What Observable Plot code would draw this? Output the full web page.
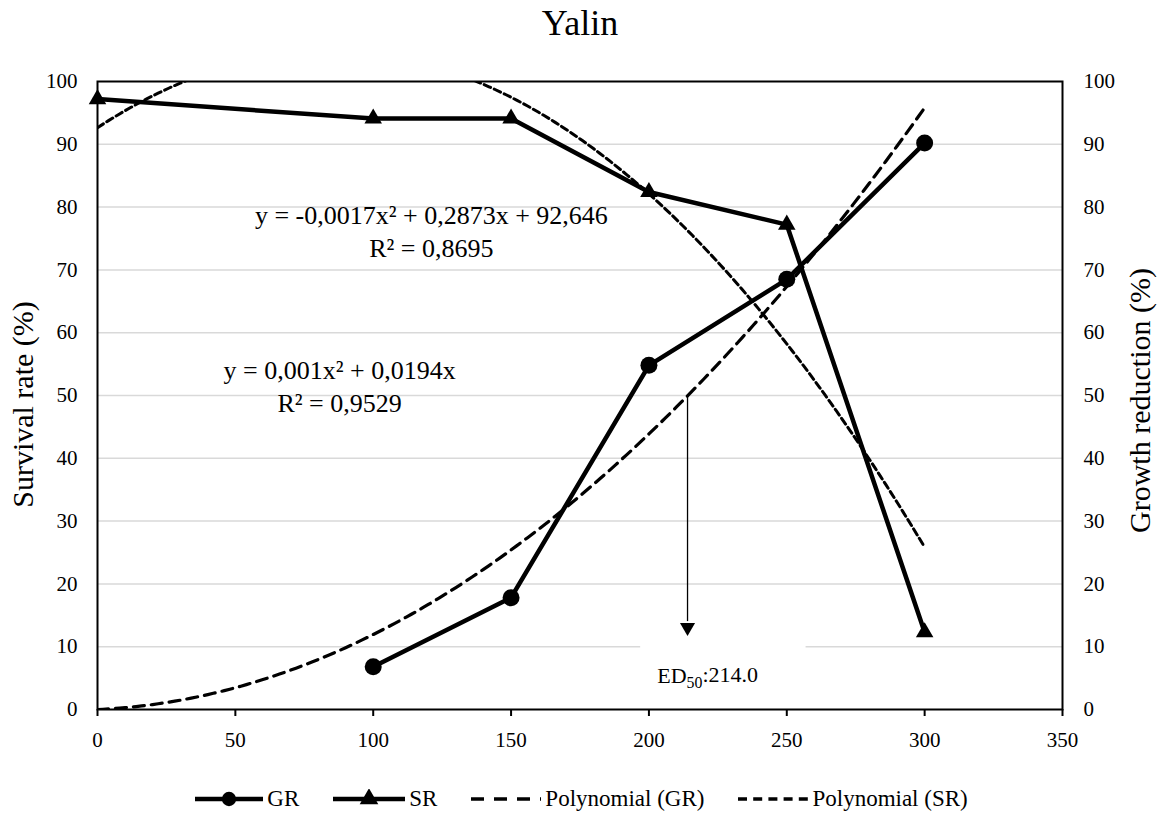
<!DOCTYPE html>
<html>
<head>
<meta charset="utf-8">
<script src="https://cdn.jsdelivr.net/npm/d3@7"></script>
<script src="https://cdn.jsdelivr.net/npm/@observablehq/plot@0.6"></script>
<style>
  body { margin: 0; background: #fff; font-family: "Liberation Serif", "Times New Roman", serif; color: #000; }
  #wrap { width: 1160px; height: 816px; position: relative; overflow: hidden; }
  #title { height: 50px; line-height: 46px; text-align: center; font-size: 36px; }
  #chart svg { display: block; }
  #legend { height: 50px; display: flex; justify-content: center; align-items: center; gap: 34px; padding-top: 16px; padding-left: 3px; box-sizing: border-box; font-size: 23px; }
  .item { display: flex; align-items: center; gap: 4px; }
  .item svg { display: block; }
</style>
</head>
<body>
<div id="wrap">
  <div id="title">Yalin</div>
  <div id="chart"></div>
  <div id="legend"></div>
</div>
<script>
// Dose (x) and the two measured series
const srDoses = [0, 100, 150, 200, 250, 300];
const srValues = [97.2, 94.1, 94.1, 82.4, 77.2, 12.3];
const grDoses = [100, 150, 200, 250, 300];
const grValues = [6.8, 17.8, 54.8, 68.5, 90.2];

// Second-order trendlines: y = a·x² + b·x + c
const grCoef = [0.001, 0.0194, 0];
const srCoef = [-0.0017, 0.2873, 92.646];
const grEquation = ["y = 0,001x² + 0,0194x", "R² = 0,9529"];
const srEquation = ["y = -0,0017x² + 0,2873x + 92,646", "R² = 0,8695"];
const trendRange = [0, 300];

// Dose giving 50 % growth reduction
const ed50 = 214.0;

// Axes
const xTicks = [0, 50, 100, 150, 200, 250, 300, 350];
const yTicks = [0, 10, 20, 30, 40, 50, 60, 70, 80, 90, 100];
const leftTitle = "Survival rate (%)";
const rightTitle = "Growth reduction (%)";

const poly = ([a, b, c]) => x => a * x * x + b * x + c;
const grFit = poly(grCoef), srFit = poly(srCoef);
const trendX = d3.range(trendRange[0], trendRange[1] + 0.001, 2);

const gr = grDoses.map((x, i) => ({x, y: grValues[i]}));
const sr = srDoses.map((x, i) => ({x, y: srValues[i]}));
const grTrend = trendX.map(x => ({x, y: grFit(x)}));
const srTrend = trendX.map(x => ({x, y: srFit(x)}));

const ink = "#000";

const chart = Plot.plot({
  width: 1160,
  height: 716,
  marginTop: 31,
  marginBottom: 57,
  marginLeft: 97,
  marginRight: 98,
  style: {fontFamily: "'Liberation Serif', 'Times New Roman', serif", fontSize: "21px", color: ink, background: "#fff"},
  x: {domain: [0, 350]},
  y: {domain: [0, 100]},
  marks: [
    Plot.gridY(yTicks.filter(v => v > 0 && v < 100), {stroke: "#d9d9d9", strokeOpacity: 1, strokeWidth: 1.5}),
    // white backing behind the ED50 label
    Plot.rect([{x1: 197, x2: 257, y1: 1, y2: 10.5}], {x1: "x1", x2: "x2", y1: "y1", y2: "y2", fill: "#fff"}),
    Plot.axisX(xTicks, {tickSize: 7, tickPadding: 16, strokeWidth: 2, fontSize: 21, label: null}),
    Plot.axisY(yTicks, {anchor: "left", tickSize: 0, tickPadding: 20, fontSize: 21, label: null}),
    Plot.axisY(yTicks, {anchor: "right", tickSize: 0, tickPadding: 21, fontSize: 21, label: null}),
    Plot.text([leftTitle], {frameAnchor: "left", dx: -74, dy: 9, rotate: -90, fontSize: 30, textAnchor: "middle", lineAnchor: "middle", fill: ink}),
    Plot.text([rightTitle], {frameAnchor: "right", dx: 78, dy: 5, rotate: -90, fontSize: 30, textAnchor: "middle", lineAnchor: "middle", fill: ink}),
    // trendlines
    Plot.line(grTrend, {x: "x", y: "y", stroke: ink, strokeWidth: 3.2, strokeDasharray: "11,7", clip: true}),
    Plot.line(srTrend, {x: "x", y: "y", stroke: ink, strokeWidth: 3, strokeDasharray: "7,4", clip: true}),
    // measured series
    Plot.line(gr, {x: "x", y: "y", stroke: ink, strokeWidth: 4.5}),
    Plot.line(sr, {x: "x", y: "y", stroke: ink, strokeWidth: 4.5}),
    Plot.dot(gr, {x: "x", y: "y", symbol: "circle", r: 8.5, fill: ink}),
    Plot.dot(sr, {x: "x", y: "y", symbol: "triangle", r: 6.5, fill: ink}),
    Plot.frame({stroke: ink, strokeWidth: 2}),
    // ED50 arrow from the GR trendline down to the label
    Plot.ruleX([ed50], {y1: grFit(ed50), y2: 14, stroke: ink, strokeWidth: 1.3}),
    Plot.dot([ed50], {x: d => d, y: 13.1, symbol: "triangle", rotate: 180, r: 5.6, fill: ink}),
    Plot.text([`ED50:${ed50.toFixed(1)}`], {x: 221.3, y: 5.3, fontSize: 22, textAnchor: "middle", lineAnchor: "middle", fill: ink}),
    // trendline equations
    Plot.text([srEquation.join("\n")], {x: 121.1, y: 76.4, fontSize: 26, lineHeight: 1.27, textAnchor: "middle", lineAnchor: "middle", fill: ink}),
    Plot.text([grEquation.join("\n")], {x: 87.8, y: 51.7, fontSize: 26, lineHeight: 1.27, textAnchor: "middle", lineAnchor: "middle", fill: ink})
  ]
});

// subscript for ED50
d3.select(chart).selectAll("text").filter(function () { return this.textContent.startsWith("ED50"); }).each(function () {
  const t = d3.select(this);
  const rest = this.textContent.slice(4);
  t.text(null);
  t.append("tspan").text("ED");
  t.append("tspan").attr("font-size", "0.72em").attr("dy", "0.28em").text("50");
  t.append("tspan").attr("dy", "-0.28em").text(rest);
});

document.getElementById("chart").append(chart);

// legend
const legendItems = [
  {label: "GR", w: 68, dash: null, width: 4.5, symbol: "circle"},
  {label: "SR", w: 72, dash: null, width: 4.5, symbol: "triangle"},
  {label: "Polynomial (GR)", w: 70, dash: "13,10", width: 3.5, symbol: null},
  {label: "Polynomial (SR)", w: 70, dash: "9,6.2", width: 3.5, symbol: null}
];
const legend = d3.select("#legend");
for (const it of legendItems) {
  const item = legend.append("div").attr("class", "item");
  const s = item.append("svg").attr("width", it.w).attr("height", 20);
  s.append("line").attr("x1", 0).attr("x2", it.w).attr("y1", 10).attr("y2", 10)
    .attr("stroke", ink).attr("stroke-width", it.width).attr("stroke-dasharray", it.dash);
  if (it.symbol) {
    s.append("path").attr("transform", `translate(${it.w / 2},10)`)
      .attr("d", d3.symbol(it.symbol === "circle" ? d3.symbolCircle : d3.symbolTriangle, it.symbol === "circle" ? 160 : 150)())
      .attr("fill", ink);
  }
  item.append("span").text(it.label);
}
</script>
</body>
</html>
